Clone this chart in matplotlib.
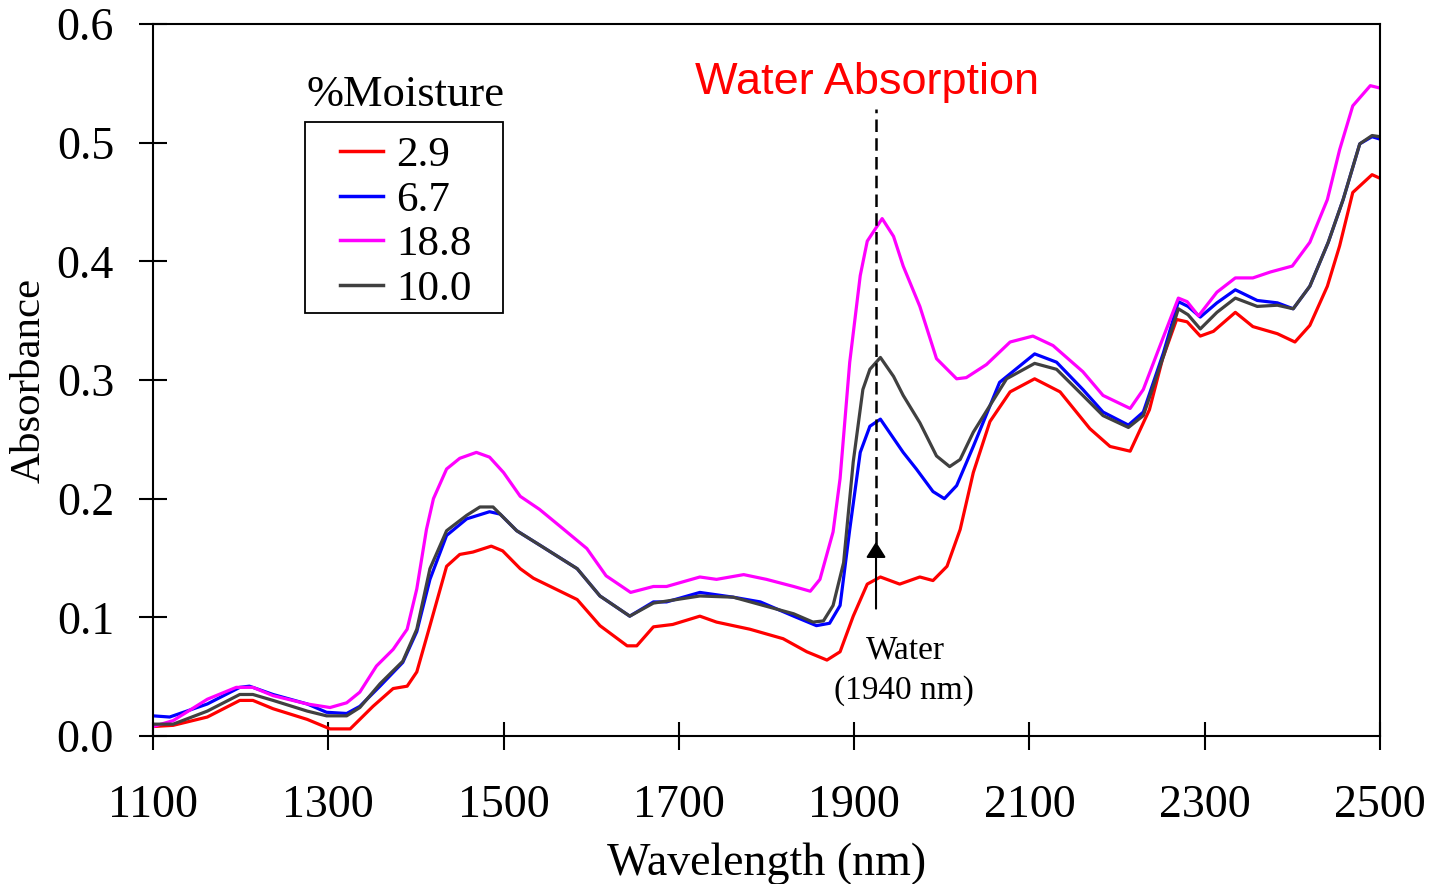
import numpy as np
import matplotlib
matplotlib.use('Agg')
import matplotlib.pyplot as plt
from matplotlib.patches import Rectangle

# NIR absorbance spectra at different moisture levels
wl_29 = [1100, 1123, 1162, 1199, 1214, 1237, 1276, 1302, 1325, 1351, 1374, 1390, 1401, 1416, 1435, 1450,
         1465, 1486, 1499, 1519, 1534, 1584, 1610, 1641, 1652, 1671, 1693, 1724, 1743, 1781, 1819, 1846,
         1869, 1884, 1899, 1915, 1930, 1952, 1975, 1990, 2006, 2021, 2036, 2055, 2078, 2106, 2135, 2169,
         2192, 2215, 2237, 2252, 2268, 2280, 2295, 2310, 2335, 2355, 2383, 2403, 2420, 2440, 2454, 2469,
         2491, 2500]
abs_29 = [0.008, 0.009, 0.016, 0.030, 0.030, 0.023, 0.014, 0.006, 0.006, 0.025, 0.040, 0.042, 0.054, 0.093, 0.143, 0.153,
          0.155, 0.160, 0.156, 0.141, 0.133, 0.115, 0.093, 0.076, 0.076, 0.092, 0.094, 0.101, 0.096, 0.090, 0.082, 0.071,
          0.064, 0.071, 0.101, 0.128, 0.134, 0.128, 0.134, 0.131, 0.143, 0.174, 0.222, 0.265, 0.290, 0.301, 0.290, 0.259,
          0.244, 0.240, 0.275, 0.318, 0.351, 0.349, 0.337, 0.341, 0.357, 0.345, 0.339, 0.332, 0.346, 0.379, 0.413, 0.458,
          0.473, 0.470]

wl_67 = [1100, 1119, 1162, 1199, 1210, 1237, 1276, 1298, 1321, 1336, 1359, 1385, 1401, 1416, 1435, 1458,
         1484, 1496, 1515, 1541, 1584, 1610, 1644, 1671, 1686, 1724, 1762, 1793, 1831, 1857, 1872, 1884,
         1895, 1907, 1918, 1930, 1956, 1971, 1990, 2003, 2017, 2036, 2066, 2106, 2131, 2161, 2184, 2213,
         2230, 2253, 2270, 2281, 2295, 2314, 2335, 2360, 2383, 2401, 2420, 2441, 2458, 2477, 2491, 2500]
abs_67 = [0.017, 0.016, 0.027, 0.041, 0.042, 0.035, 0.027, 0.020, 0.019, 0.025, 0.042, 0.062, 0.088, 0.132, 0.169, 0.183,
          0.189, 0.187, 0.173, 0.161, 0.141, 0.118, 0.101, 0.113, 0.113, 0.121, 0.117, 0.113, 0.101, 0.093, 0.095, 0.110,
          0.174, 0.239, 0.261, 0.267, 0.239, 0.225, 0.206, 0.200, 0.211, 0.244, 0.298, 0.322, 0.315, 0.292, 0.273, 0.262,
          0.273, 0.323, 0.366, 0.362, 0.353, 0.365, 0.376, 0.367, 0.365, 0.360, 0.379, 0.416, 0.452, 0.499, 0.505, 0.503]

wl_188 = [1100, 1123, 1162, 1195, 1214, 1237, 1276, 1302, 1321, 1336, 1355, 1374, 1390, 1401, 1412, 1420,
          1435, 1450, 1469, 1484, 1500, 1519, 1541, 1564, 1595, 1617, 1645, 1671, 1686, 1724, 1743, 1774,
          1800, 1831, 1850, 1861, 1876, 1884, 1895, 1907, 1915, 1932, 1945, 1956, 1975, 1994, 2017, 2028,
          2051, 2078, 2104, 2127, 2161, 2184, 2215, 2230, 2246, 2270, 2280, 2293, 2314, 2335, 2355, 2375,
          2400, 2420, 2440, 2454, 2469, 2489, 2500]
abs_188 = [0.008, 0.013, 0.031, 0.041, 0.041, 0.034, 0.027, 0.024, 0.028, 0.037, 0.059, 0.073, 0.090, 0.124, 0.174, 0.200,
           0.225, 0.234, 0.239, 0.235, 0.222, 0.202, 0.191, 0.177, 0.158, 0.135, 0.121, 0.126, 0.126, 0.134, 0.132, 0.136,
           0.132, 0.126, 0.122, 0.132, 0.172, 0.217, 0.315, 0.388, 0.417, 0.436, 0.421, 0.396, 0.362, 0.318, 0.301, 0.302,
           0.313, 0.332, 0.337, 0.329, 0.307, 0.287, 0.276, 0.292, 0.323, 0.369, 0.366, 0.354, 0.374, 0.386, 0.386, 0.391,
           0.396, 0.416, 0.452, 0.494, 0.531, 0.548, 0.546]

wl_100 = [1100, 1123, 1162, 1199, 1214, 1237, 1276, 1298, 1321, 1336, 1359, 1385, 1401, 1416, 1435, 1458,
          1473, 1488, 1515, 1541, 1584, 1610, 1644, 1671, 1724, 1762, 1831, 1853, 1865, 1876, 1888, 1899,
          1910, 1918, 1930, 1945, 1956, 1975, 1994, 2009, 2021, 2036, 2074, 2106, 2131, 2161, 2184, 2213,
          2230, 2253, 2270, 2281, 2295, 2314, 2335, 2360, 2383, 2401, 2420, 2441, 2458, 2477, 2491, 2500]
abs_100 = [0.010, 0.010, 0.021, 0.035, 0.035, 0.030, 0.021, 0.017, 0.017, 0.024, 0.044, 0.063, 0.090, 0.141, 0.173, 0.186,
           0.193, 0.193, 0.173, 0.161, 0.141, 0.118, 0.101, 0.112, 0.118, 0.117, 0.103, 0.096, 0.097, 0.110, 0.146, 0.231,
           0.292, 0.309, 0.319, 0.303, 0.287, 0.264, 0.236, 0.227, 0.233, 0.256, 0.301, 0.314, 0.309, 0.287, 0.270, 0.260,
           0.270, 0.320, 0.360, 0.355, 0.343, 0.357, 0.369, 0.362, 0.363, 0.360, 0.379, 0.416, 0.452, 0.499, 0.506, 0.505]

labels = ['2.9', '6.7', '18.8', '10.0']
colors = ['#ff0000', '#0000ff', '#ff00ff', '#404040']
water_wl = 1925

plt.rcParams['font.family'] = ['Liberation Serif', 'DejaVu Serif']

fig = plt.figure(figsize=(14.34, 8.84), dpi=100)
ax = fig.add_axes([0.1067, 0.1674, 0.8556, 0.8055])

series = [(wl_29, abs_29), (wl_67, abs_67), (wl_188, abs_188), (wl_100, abs_100)]
for (x, y), lab, c in zip(series, labels, colors):
    ax.plot(x, y, color=c, lw=2.3, label=lab)

ax.set_xlim(1100, 2500)
ax.set_ylim(0, 0.6)
ax.set_xticks(np.arange(1100, 2501, 200))
ax.set_yticks(np.arange(0, 0.61, 0.1))
ax.yaxis.set_major_formatter(matplotlib.ticker.FormatStrFormatter('%.1f'))
ax.tick_params(axis='both', direction='inout', length=20, width=1.5, labelsize=33)
ax.tick_params(axis='x', pad=25)
ax.tick_params(axis='y', pad=18)
for sp in ax.spines.values():
    sp.set_linewidth(1.5)

ax.set_xlabel('Wavelength (nm)', fontsize=33, labelpad=11)
ax.set_ylabel('Absorbance', fontsize=31, labelpad=6)

# dashed marker line + arrow at the water band
ax.plot([water_wl, water_wl], [0.162, 0.528], color='black', lw=1.8, ls=(0, (5, 2.5)))
ax.annotate('', xy=(water_wl, 0.166), xytext=(water_wl, 0.105),
            arrowprops=dict(arrowstyle='-|>,head_length=0.95,head_width=0.6', color='black', lw=1.5))
ax.text(1959, 0.072, 'Water', fontsize=24, ha='center', va='center')
ax.text(1957, 0.038, '(1940 nm)', fontsize=24, ha='center', va='center')
ax.text(1915, 0.551, 'Water Absorption', fontsize=32.5, color='#ff0000', ha='center', va='center',
        family=['Liberation Sans', 'DejaVu Sans'])

# legend: title sits above the frame, frame drawn separately
ax.text(0.206, 0.900, '%Moisture', transform=ax.transAxes, fontsize=32, ha='center', va='center')
ax.add_patch(Rectangle((0.124, 0.594), 0.1614, 0.268, transform=ax.transAxes,
                       fill=False, edgecolor='black', lw=1.3, zorder=5))
leg = ax.legend(loc='upper left', bbox_to_anchor=(0.1524, 0.843), borderaxespad=0, fontsize=31,
                frameon=False, handlelength=1.0, handletextpad=0.3, labelspacing=0.13, borderpad=0)
for h in leg.get_lines():
    h.set_linewidth(2.5)

plt.savefig('out.png', dpi=100)
